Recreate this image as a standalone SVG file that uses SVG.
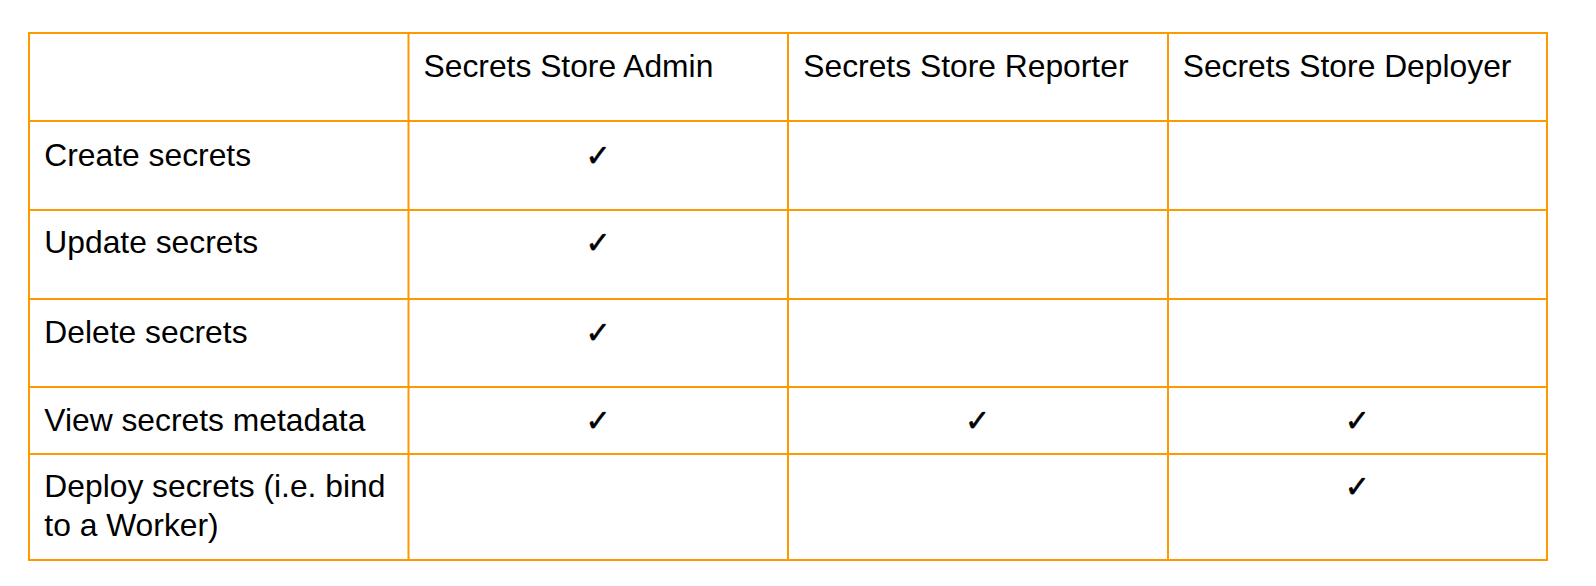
<svg xmlns="http://www.w3.org/2000/svg" width="1596" height="586" viewBox="0 0 1596 586">
<style>
.grid{stroke:#ff9900;stroke-width:2;fill:none}
.t{font-family:"Liberation Sans",Arial,sans-serif;font-size:31.8px;fill:#000}
.ck{font-family:"DejaVu Sans",sans-serif;font-size:30px;font-weight:bold;fill:#000;stroke:#000;stroke-width:0.6;text-anchor:middle}
</style>
<rect width="1596" height="586" fill="#fff"/>
<g id="grid">
<rect class="grid" x="29" y="33" width="1518" height="527"/>
<line class="grid" x1="408.5" y1="33" x2="408.5" y2="560"/>
<line class="grid" x1="788" y1="33" x2="788" y2="560"/>
<line class="grid" x1="1168" y1="33" x2="1168" y2="560"/>
<line class="grid" x1="29" y1="121" x2="1547" y2="121"/>
<line class="grid" x1="29" y1="210" x2="1547" y2="210"/>
<line class="grid" x1="29" y1="299" x2="1547" y2="299"/>
<line class="grid" x1="29" y1="387" x2="1547" y2="387"/>
<line class="grid" x1="29" y1="454" x2="1547" y2="454"/>
</g>
<g id="header">
<text class="t" x="423.5" y="76.7">Secrets Store Admin</text>
<text class="t" x="803.3" y="76.7">Secrets Store Reporter</text>
<text class="t" x="1182.7" y="76.7">Secrets Store Deployer</text>
</g>
<g id="row-create">
<text class="t" x="44.3" y="165.7">Create secrets</text>
<text class="ck" x="598" y="165.7">✓</text>
</g>
<g id="row-update">
<text class="t" x="44.3" y="253.3">Update secrets</text>
<text class="ck" x="598" y="253.3">✓</text>
</g>
<g id="row-delete">
<text class="t" x="44.3" y="342.7">Delete secrets</text>
<text class="ck" x="598" y="342.7">✓</text>
</g>
<g id="row-view">
<text class="t" x="44.3" y="430.7">View secrets metadata</text>
<text class="ck" x="598" y="430.7">✓</text>
<text class="ck" x="977.6" y="430.7">✓</text>
<text class="ck" x="1357.2" y="430.7">✓</text>
</g>
<g id="row-deploy">
<text class="t" x="44.3" y="496.7">Deploy secrets (i.e. bind</text>
<text class="t" x="44.3" y="536">to a Worker)</text>
<text class="ck" x="1357.2" y="496.7">✓</text>
</g>
</svg>
